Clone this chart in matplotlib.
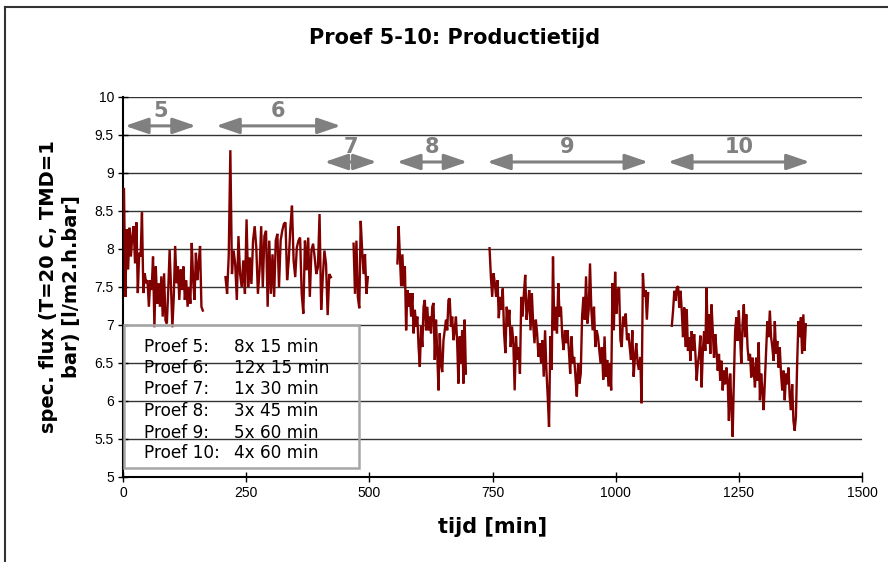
import numpy as np
import matplotlib
matplotlib.use("Agg")
import matplotlib.pyplot as plt
from matplotlib.lines import Line2D
from matplotlib.patches import Rectangle

# spec. flux per run, sampled evenly between start and end time [min]
proef5_span = (2, 162)
proef5_flux = [8.79, 7.37, 8.26, 7.73, 8.28, 7.90, 8.17, 8.30, 7.81, 8.35,
               7.42, 7.95, 7.90, 8.48, 7.42, 7.68, 7.55, 7.59, 7.24, 7.59,
               7.46, 7.90, 6.97, 7.77, 7.28, 7.55, 7.24, 7.64, 7.11, 7.68,
               7.06, 7.02, 7.46, 7.99, 7.50, 6.97, 7.37, 8.04, 7.55, 7.77,
               7.33, 7.73, 7.46, 7.77, 7.33, 7.59, 7.24, 7.50, 7.28, 8.08,
               7.59, 7.33, 7.95, 7.59, 7.81, 8.04, 7.24, 7.19]

proef6_span = (208, 422)
proef6_flux = [7.63, 7.41, 7.91, 9.30, 7.67, 7.98, 7.80, 7.33, 8.17, 7.67,
               7.50, 7.85, 7.41, 8.39, 7.50, 7.89, 7.54, 8.11, 8.30, 8.02,
               7.41, 7.72, 8.30, 7.50, 8.17, 8.24, 7.24, 8.11, 7.41, 7.93,
               7.37, 8.11, 8.20, 7.50, 8.11, 8.24, 8.33, 8.35, 7.59, 7.85,
               8.28, 8.57, 7.85, 7.63, 8.02, 8.11, 8.15, 7.41, 7.15, 8.11,
               7.72, 8.15, 7.37, 7.98, 8.07, 7.89, 7.67, 7.76, 8.46, 7.20,
               7.63, 7.98, 7.80, 7.13, 7.67, 7.63]

proef7_span = (468, 497)
proef7_flux = [8.07, 7.41, 8.11, 7.37, 7.22, 8.37, 7.98, 7.67, 7.93, 7.41, 7.63]

proef8_span = (557, 696)
proef8_flux = [7.81, 8.30, 7.90, 7.51, 7.93, 7.51, 7.77, 6.93, 7.46, 7.24,
               7.42, 7.11, 7.42, 6.89, 7.20, 6.98, 7.11, 6.71, 6.45, 6.98,
               6.71, 7.24, 7.33, 6.93, 7.24, 6.93, 7.11, 6.89, 7.24, 7.29,
               6.54, 7.07, 6.63, 6.14, 6.89, 6.49, 6.38, 6.80, 6.93, 7.07,
               6.93, 7.33, 7.35, 6.98, 7.11, 6.80, 6.93, 7.11, 6.76, 6.23,
               6.85, 6.49, 6.93, 6.23, 7.07, 6.36]

proef9_span = (744, 1066)
proef9_flux = [8.01, 7.64, 7.37, 7.68, 7.55, 7.37, 7.59, 7.09, 7.37, 7.20,
               7.48, 6.89, 6.63, 7.24, 6.98, 7.20, 6.71, 6.98, 6.76, 6.14,
               6.85, 6.54, 6.71, 6.36,
               7.37, 7.11, 7.42, 7.66, 7.07, 7.24, 7.46, 6.93, 7.42, 7.02,
               6.76, 7.07, 6.89, 6.58, 6.76, 6.50, 6.80, 6.32, 6.93, 6.41,
               6.06, 5.66, 6.85, 6.41,
               7.90, 6.93, 7.24, 6.89, 7.55, 7.11, 7.24, 6.85, 6.67, 6.93,
               6.76, 6.93, 6.67, 6.36, 6.85, 6.50, 6.58, 6.32, 6.06, 6.50,
               6.23, 6.36,
               7.11, 7.37, 7.07, 7.64, 7.02, 7.20, 7.81, 7.20, 6.93, 7.24,
               6.71, 6.93, 6.85, 6.67, 6.50, 6.71, 6.28, 6.85, 6.32, 6.54,
               6.19, 6.50, 6.14,
               7.55, 6.93, 7.70, 7.15, 7.46, 7.50, 6.80, 6.71, 7.11, 6.98,
               7.15, 6.80, 6.89, 6.71, 6.54, 6.93, 6.32, 6.58, 6.76, 6.50,
               6.41, 6.58, 5.97,
               7.68, 7.37, 7.46, 7.07, 7.42]

proef10_span = (1114, 1386)
proef10_flux = [6.99, 7.19, 7.45, 7.32, 7.49, 7.51, 7.23, 7.45, 7.19, 6.84,
                7.23, 6.71, 7.21, 6.66, 6.84, 6.53, 6.92, 6.66, 6.88, 6.62,
                6.27, 6.49, 6.62, 6.86, 6.18,
                6.66, 6.92, 6.66, 7.49, 6.75, 7.14, 6.62, 7.27, 6.92, 6.57,
                6.88, 6.66, 6.40, 6.62, 6.27, 6.53, 6.14, 6.40, 6.22, 6.44,
                6.27, 5.74, 6.36, 5.96, 5.53, 6.27,
                6.92, 7.10, 6.79, 7.19, 6.84, 6.49, 7.01, 7.27, 6.84, 7.14,
                6.71, 6.53, 6.62, 6.31, 6.57, 6.40, 6.18, 6.57, 6.27, 6.77,
                6.01, 6.36, 6.14, 5.88, 6.27,
                6.66, 7.05, 6.84, 7.19, 6.84, 6.71, 6.53, 7.05, 6.62, 6.79,
                6.44, 6.71, 6.36, 6.14, 6.40, 6.01, 6.36, 6.22, 6.44, 6.05,
                5.88, 6.22, 5.74, 5.61, 5.79,
                6.49, 7.05, 6.84, 7.10, 6.62, 7.14, 6.66, 7.01]

runs = [
    (proef5_span, proef5_flux),
    (proef6_span, proef6_flux),
    (proef7_span, proef7_flux),
    (proef8_span, proef8_flux),
    (proef9_span, proef9_flux),
    (proef10_span, proef10_flux),
]

# run labels with the period each one covers
run_labels = ["5", "6", "7", "8", "9", "10"]
run_periods = [(4, 148), (189, 442), (409, 515), (556, 699), (739, 1066), (1106, 1394)]
run_levels = [9.62, 9.62, 9.145, 9.145, 9.145, 9.145]

legend_names = ["Proef 5:", "Proef 6:", "Proef 7:", "Proef 8:", "Proef 9:", "Proef 10:"]
legend_setup = ["8x 15 min", "12x 15 min", "1x 30 min", "3x 45 min", "5x 60 min", "4x 60 min"]

W, H = 888, 562
fig = plt.figure(figsize=(W / 100, H / 100), dpi=100)
ax = fig.add_axes([123 / W, 1 - 477 / H, 739 / W, 380 / H])

line_color = "#800000"
for (t0, t1), flux in runs:
    t = np.linspace(t0, t1, len(flux))
    ax.plot(t, flux, color=line_color, lw=1.7, zorder=3, solid_joinstyle="miter")

ax.set_xlim(0, 1500)
ax.set_ylim(5, 10)
ax.set_xticks(np.arange(0, 1501, 250))
ax.set_yticks(np.arange(5, 10.01, 0.5))
ax.set_yticklabels(["5", "5.5", "6", "6.5", "7", "7.5", "8", "8.5", "9", "9.5", "10"])
ax.grid(axis="y", color="#333333", lw=1.0, zorder=1)
ax.grid(axis="x", visible=False)
ax.set_axisbelow(True)

for side in ("top", "right"):
    ax.spines[side].set_visible(False)
for side in ("left", "bottom"):
    ax.spines[side].set_color("black")
    ax.spines[side].set_linewidth(1.5)

ax.tick_params(direction="inout", length=7, width=1, colors="black", pad=3)
for lab in ax.get_xticklabels() + ax.get_yticklabels():
    lab.set_fontfamily("Liberation Sans")
    lab.set_fontsize(10)

# double-headed arrows marking each run
arrow_gray = "#808080"
for lab, (a, b), lvl in zip(run_labels, run_periods, run_levels):
    ax.annotate("", xy=(b, lvl), xytext=(a, lvl),
                arrowprops=dict(arrowstyle="<|-|>,head_length=1.4,head_width=0.48",
                                mutation_scale=10, color=arrow_gray, lw=2.2,
                                shrinkA=0, shrinkB=0),
                zorder=4)
    ax.text((a + b) / 2, lvl + 0.2, lab, ha="center", va="center",
            fontsize=15, fontweight="bold", color=arrow_gray,
            family="DejaVu Sans", zorder=4)

# box listing the run settings
box = Rectangle((1 / 739, 9 / 380), 235 / 739, 143 / 380, transform=ax.transAxes,
                fill=False, edgecolor="#a6a6a6", lw=1.8, zorder=4)
ax.add_patch(box)
row_y = [346.7, 368.3, 389.3, 410.7, 432.7, 453.3]
for name, setup, py in zip(legend_names, legend_setup, row_y):
    yy = (477 - py) / 380
    ax.text(21 / 739, yy, name, transform=ax.transAxes, ha="left", va="center",
            fontsize=12.2, family="DejaVu Sans", zorder=5)
    ax.text(111 / 739, yy, setup, transform=ax.transAxes, ha="left", va="center",
            fontsize=12.2, family="DejaVu Sans", zorder=5)

ax.set_xlabel("tijd [min]", fontsize=15, fontweight="bold", family="DejaVu Sans")
ax.xaxis.set_label_coords(0.5, -(527 - 477) / 380)
ax.xaxis.label.set_va("center")

ax.set_ylabel("spec. flux (T=20 C, TMD=1\nbar) [l/m2.h.bar]", fontsize=14,
              fontweight="bold", family="DejaVu Sans", linespacing=1.2,
              ha="center", va="center", multialignment="center")
ax.yaxis.set_label_coords((60 - 123) / 739, (477 - 287) / 380)

fig.text(455 / W, 1 - 38 / H, "Proef 5-10: Productietijd", ha="center", va="center",
         fontsize=15, fontweight="bold", family="DejaVu Sans")

# chart frame (left and top edges)
fig.add_artist(Line2D([5 / W, 5 / W], [0, 1 - 7 / H], color="#333333", lw=1.5))
fig.add_artist(Line2D([5 / W, 1], [1 - 7 / H, 1 - 7 / H], color="#333333", lw=1.5))

fig.savefig("out.png", dpi=100)
